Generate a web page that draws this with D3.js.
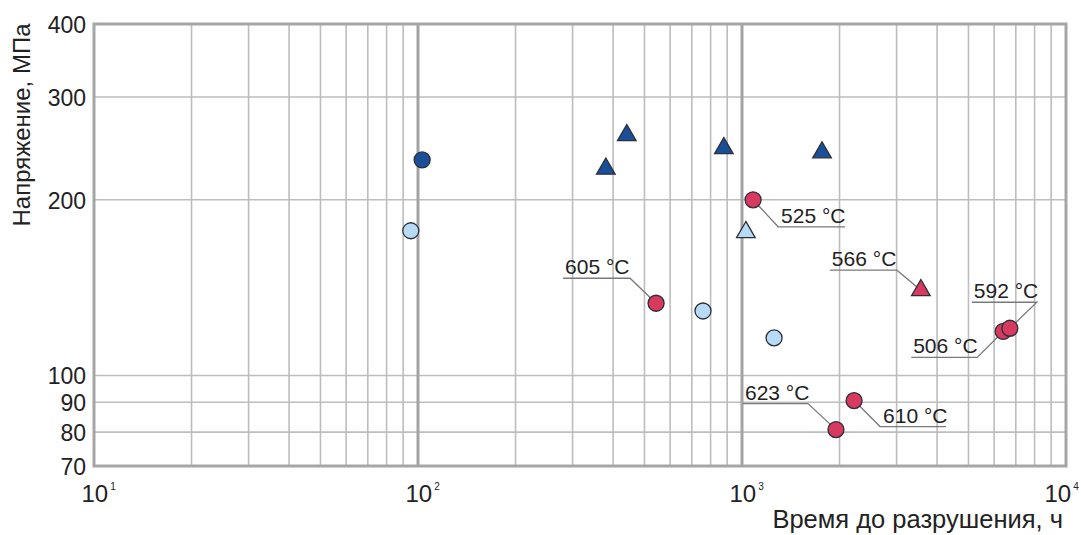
<!DOCTYPE html>
<html>
<head>
<meta charset="utf-8">
<script src="https://cdn.jsdelivr.net/npm/d3@7"></script>
<style>
  body { margin: 0; background: #fff; }
  text { font-family: "Liberation Sans", Arial, sans-serif; fill: #222; }
</style>
</head>
<body>
<div id="chart-area"></div>
<script>
// data
var time   = [103, 95, 380, 441, 879, 1766, 1028, 1082, 543, 758, 1256, 3565, 6400, 6710, 2218, 1950]
var stress = [234, 177, 226, 258, 245, 241, 176, 200, 133, 129, 116, 140, 119, 120.5, 90.6, 80.8]
var kind   = ["darkC", "lightC", "darkT", "darkT", "darkT", "darkT", "lightT", "redC", "redC", "lightC", "lightC", "redT", "redC", "redC", "redC", "redC"]
var label  = ["", "", "", "", "", "", "", "525 °C", "605 °C", "", "", "566 °C", "506 °C", "592 °C", "610 °C", "623 °C"]

var yTicks = [70, 80, 90, 100, 200, 300, 400]
var yGrid  = [80, 90, 100, 200, 300]
var xDecades = [10, 100, 1000, 10000]

// leader line layout for labels: elbow offset from the point, underline length, side of the text
var leader = {
    "525 °C": {dx: 25, dy: 27, len: 67, dir: 1},
    "605 °C": {dx: -26, dy: -25, len: 67, dir: -1},
    "566 °C": {dx: -24, dy: -20, len: 67, dir: -1},
    "592 °C": {dx: 27, dy: -26, len: 65, dir: -1},
    "506 °C": {dx: -26, dy: 26, len: 66, dir: -1},
    "610 °C": {dx: 26, dy: 26, len: 66, dir: 1},
    "623 °C": {dx: -28, dy: -26, len: 65, dir: -1}
}

var fill = {darkC: "#1a4f98", darkT: "#1a4f98", lightC: "#b7dbf7", lightT: "#b7dbf7", redC: "#d8395f", redT: "#d8395f"}

var m = {l: 94, t: 24, r: 15, b: 69}
var cw = 1081, ch = 535
var w = cw - m.l - m.r
var h = ch - m.t - m.b

var svg = d3.select("#chart-area").append("svg")
    .attr("width", cw)
    .attr("height", ch)

var g = svg.append("g")
    .attr("transform", "translate(" + m.l + ", " + m.t + ")")

var x = d3.scaleLog().domain([10, 10000]).range([0, w])
var y = d3.scaleLog().domain([70, 400]).range([h, 0])

// minor vertical grid
var minor = []
xDecades.slice(0, 3).forEach(d => {
    for (var k = 2; k <= 9; k++) minor.push(d * k)
})

g.append("g").selectAll("line.minor")
    .data(minor).enter().append("line")
    .attr("x1", d => x(d)).attr("x2", d => x(d))
    .attr("y1", 0).attr("y2", h)
    .attr("stroke", "#bdbdbd")
    .attr("stroke-width", 1.6)

g.append("g").selectAll("line.hgrid")
    .data(yGrid).enter().append("line")
    .attr("x1", 0).attr("x2", w)
    .attr("y1", d => y(d)).attr("y2", d => y(d))
    .attr("stroke", "#bdbdbd")
    .attr("stroke-width", 1.6)

g.append("g").selectAll("line.major")
    .data(xDecades.slice(1, 3)).enter().append("line")
    .attr("x1", d => x(d)).attr("x2", d => x(d))
    .attr("y1", 0).attr("y2", h)
    .attr("stroke", "#a3a3a3")
    .attr("stroke-width", 3)

g.append("rect")
    .attr("width", w).attr("height", h)
    .attr("fill", "none")
    .attr("stroke", "#a6a6a6")
    .attr("stroke-width", 3)

// axes
var leftAxis = d3.axisLeft(y).tickValues(yTicks).tickFormat(d3.format("d")).tickSize(0).tickPadding(8)
g.append("g")
    .attr("class", "left axis")
    .call(leftAxis)
    .call(a => a.select(".domain").remove())
    .selectAll("text")
    .attr("font-size", "23px")
    .attr("fill", "#222")
    .attr("dy", "0.36em")

var bottomAxis = d3.axisBottom(x).tickValues(xDecades).tickFormat("").tickSize(0)
var bx = g.append("g")
    .attr("class", "bottom axis")
    .attr("transform", "translate(0, " + h + ")")
    .call(bottomAxis)
bx.select(".domain").remove()
bx.selectAll(".tick text").remove()
bx.selectAll(".tick").append("text")
    .attr("y", 36)
    .attr("x", d => d == 10000 ? -22 : -13)
    .attr("font-size", "24px")
    .attr("fill", "#222")
    .attr("text-anchor", "start")
    .text("10")
    .append("tspan")
    .attr("font-size", "10px")
    .attr("dy", "-12")
    .attr("dx", "2")
    .text(d => Math.round(Math.log10(d)))

g.append("text")
    .attr("class", "y axis-label")
    .attr("x", -(h / 2) + 120)
    .attr("y", -64)
    .attr("font-size", "24px")
    .attr("text-anchor", "middle")
    .attr("transform", "rotate(-90)")
    .text("Напряжение, МПа")

g.append("text")
    .attr("class", "x axis-label")
    .attr("x", w - 3)
    .attr("y", h + 62)
    .attr("font-size", "25.5px")
    .attr("text-anchor", "end")
    .text("Время до разрушения, ч")

// points
var data = time.map((t, i) => ({t: t, s: stress[i], k: kind[i], lab: label[i]}))

// leader lines and labels
var labs = g.append("g").selectAll("g.lab")
    .data(data.filter(d => d.lab)).enter().append("g")

labs.append("polyline")
    .attr("points", d => {
        var L = leader[d.lab]
        var px = x(d.t), py = y(d.s)
        var ex = px + L.dx, ey = py + L.dy
        return [[px, py], [ex, ey], [ex + L.dir * L.len, ey]].map(p => p.join(",")).join(" ")
    })
    .attr("fill", "none")
    .attr("stroke", "#7a7a7a")
    .attr("stroke-width", 1.3)

labs.append("text")
    .attr("x", d => {
        var L = leader[d.lab]
        var ex = x(d.t) + L.dx
        return L.dir > 0 ? ex + 3 : ex - L.len + 2
    })
    .attr("y", d => y(d.s) + leader[d.lab].dy - 4)
    .attr("font-size", "21px")
    .text(d => d.lab)

g.append("g").selectAll("path.pt")
    .data(data).enter().append("path")
    .attr("transform", d => "translate(" + x(d.t) + "," + y(d.s) + ")")
    .attr("d", d => d.k.slice(-1) == "T"
        ? d3.symbol().type(d3.symbolTriangle).size(150)()
        : d3.symbol().type(d3.symbolCircle).size(Math.PI * 64)())
    .attr("fill", d => fill[d.k])
    .attr("stroke", "#2b2f3a")
    .attr("stroke-width", 1.3)
</script>
</body>
</html>
